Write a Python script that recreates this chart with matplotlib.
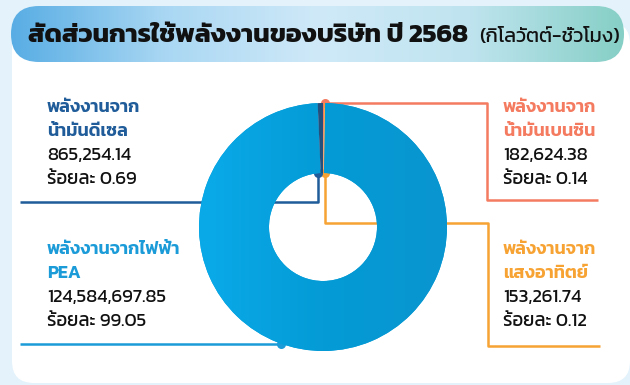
import numpy as np
import matplotlib
matplotlib.use("Agg")
import matplotlib.pyplot as plt
from matplotlib.patches import FancyBboxPatch
from matplotlib.colors import LinearSegmentedColormap

plt.rcParams['font.family'] = ['Kanit', 'DejaVu Sans']

# energy use by source (kWh), pie order starts at 12 o'clock going clockwise
sources = ["น้ำมันเบนซิน", "แสงอาทิตย์", "ไฟฟ้า PEA", "น้ำมันดีเซล"]
kwh = [182624.38, 153261.74, 124584697.85, 865254.14]
share = [0.14, 0.12, 99.05, 0.69]
head1 = ["พลังงานจาก", "พลังงานจาก", "พลังงานจากไฟฟ้า", "พลังงานจาก"]
head2 = ["น้ำมันเบนซิน", "แสงอาทิตย์", "PEA", "น้ำมันดีเซล"]
colors = ["#f47b60", "#f7a334", "#05a0dc", "#24507e"]
line_colors = ["#f47b60", "#f7a334", "#1b9bd8", "#1f5c99"]

title = "สัดส่วนการใช้พลังงานของบริษัท ปี 2568"
unit = "(กิโลวัตต์-ชั่วโมง)"

W, H = 630, 385
fig = plt.figure(figsize=(6.3, 3.85), dpi=100)
fig.patch.set_facecolor("#e3f2fb")
ax = fig.add_axes([0, 0, 1, 1])
ax.set_xlim(0, W)
ax.set_ylim(H, 0)
ax.axis("off")

# white card
card = FancyBboxPatch((12, 22), 618, 361, boxstyle="round,pad=0,rounding_size=22",
                      fc="white", ec="none", zorder=1)
ax.add_patch(card)

# title bar with a blue -> pale -> teal gradient
bar = FancyBboxPatch((11, 6), 613, 56, boxstyle="round,pad=0,rounding_size=28",
                     fc="none", ec="none", zorder=2)
ax.add_patch(bar)
cm_bar = LinearSegmentedColormap.from_list("bar", ["#58ade4", "#a9d7f3", "#cfe9f8", "#bfe4ef", "#86cfc6"])
grad = np.linspace(0, 1, 256).reshape(1, -1)
im = ax.imshow(grad, extent=(11, 624, 62, 6), cmap=cm_bar, aspect="auto", zorder=2)
im.set_clip_path(bar)
ax.set_xlim(0, W)
ax.set_ylim(H, 0)

ax.text(28, 36, title, fontsize=19, fontweight="bold", color="#111111",
        va="center", ha="left", zorder=3)
ax.text(620, 37, unit, fontsize=14.5, color="#111111", va="center", ha="right", zorder=3)

# donut
cx, cy, r_out, r_in = 323, 227, 124, 54
axp = fig.add_axes([(cx - r_out) / W, (H - cy - r_out) / H, 2 * r_out / W, 2 * r_out / H])
wedges, _ = axp.pie(kwh, colors=colors, startangle=90, counterclock=False,
                    radius=1, wedgeprops=dict(width=1 - r_in / r_out, linewidth=0))
axp.set_aspect("equal")
axp.axis("off")

# soft left-to-right shading on the big slice
cm_d = LinearSegmentedColormap.from_list("d", ["#0aaae9", "#049bd6", "#0a95cf"])
dim = axp.imshow(grad, extent=(-1, 1, -1, 1), cmap=cm_d, aspect="auto", zorder=1)
dim.set_clip_path(wedges[2])
for i, w in enumerate(wedges):
    w.set_zorder(0 if i == 2 else 2)
axp.set_xlim(-1, 1)
axp.set_ylim(-1, 1)


def to_px(theta_deg, r):
    p = axp.transData.transform((r * np.cos(np.radians(theta_deg)), r * np.sin(np.radians(theta_deg))))
    return ax.transData.inverted().transform(p)


def mid(w):
    return 0.5 * (w.theta1 + w.theta2)


# leader anchors on the ring
benz = to_px(mid(wedges[0]), 1.0)
solar = to_px(mid(wedges[1]), r_in / r_out)
pea = to_px(250, 1.0)
dies = to_px(mid(wedges[3]) + 4, r_in / r_out)
solar[0] += 1
benz[0] += 1

lw = 1.8
paths = [
    [benz, (487, benz[1]), (487, 200), (598, 200)],
    [solar, (solar[0], 223), (488, 223), (488, 346), (600, 346)],
    [pea, (20, pea[1])],
    [dies, (dies[0], 202), (20, 202)],
]
for pts, c in zip(paths, line_colors):
    pts = np.array(pts, dtype=float)
    ax.plot(pts[:, 0], pts[:, 1], color=c, lw=lw, zorder=4, solid_capstyle="butt")
    ax.plot(pts[0, 0], pts[0, 1], "o", color=c, ms=6.5, mec="none", zorder=5)

# labels
spots = [(503, 108), (503, 250), (47, 250), (47, 108)]
for i, (x, y) in enumerate(spots):
    ax.text(x, y, head1[i], fontsize=13, fontweight="semibold", color=line_colors[i], va="center", zorder=3)
    ax.text(x, y + 23, head2[i], fontsize=13, fontweight="semibold", color=line_colors[i], va="center", zorder=3)
    ax.text(x, y + 48, f"{kwh[i]:,.2f}", fontsize=13.5, color="#111111", va="center", zorder=3)
    ax.text(x, y + 72, f"ร้อยละ {share[i]:.2f}", fontsize=13.5, color="#111111", va="center", zorder=3)

fig.savefig("out.png", dpi=100, facecolor=fig.get_facecolor())
